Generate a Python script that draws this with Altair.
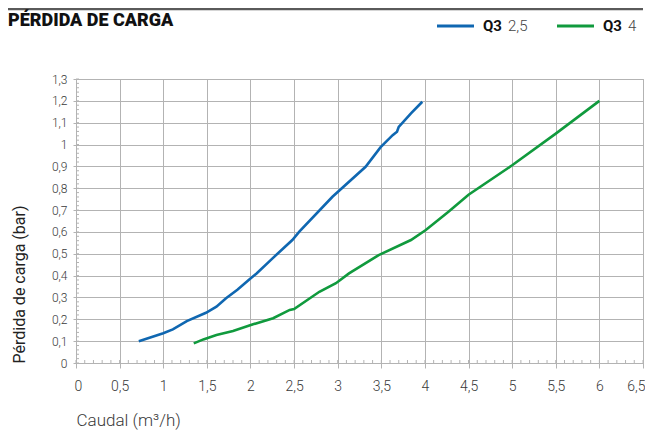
import altair as alt
import pandas as pd
import numpy as np

# ---- data ----
blue_x = [0.72, 1.0, 1.11, 1.27, 1.49, 1.61, 1.72, 1.85, 1.99, 2.07, 2.25, 2.48, 2.56, 2.94, 3.32, 3.49, 3.63, 3.68, 3.70, 3.84, 3.97]
blue_y = [0.10, 0.136, 0.154, 0.192, 0.23, 0.258, 0.296, 0.335, 0.383, 0.41, 0.478, 0.563, 0.601, 0.761, 0.898, 0.987, 1.043, 1.059, 1.081, 1.143, 1.196]
green_x = [1.35, 1.46, 1.61, 1.80, 2.03, 2.26, 2.45, 2.50, 2.79, 2.98, 3.13, 3.47, 3.84, 4.01, 4.27, 4.5, 5.0, 5.5, 6.0]
green_y = [0.09, 0.108, 0.128, 0.146, 0.177, 0.205, 0.243, 0.247, 0.326, 0.365, 0.41, 0.494, 0.563, 0.609, 0.692, 0.77, 0.905, 1.05, 1.2]
series_names = ["Q3 2,5", "Q3 4"]
series_colors = ["#0f67b1", "#109a3d"]
x_ticks = [0, 0.5, 1, 1.5, 2, 2.5, 3, 3.5, 4, 4.5, 5, 5.5, 6, 6.5]
y_ticks = [0, 0.1, 0.2, 0.3, 0.4, 0.5, 0.6, 0.7, 0.8, 0.9, 1.0, 1.1, 1.2, 1.3]
x_minor = [round(v, 2) for v in np.arange(0, 6.51, 0.1)]
y_minor = [round(v, 2) for v in np.arange(0, 1.301, 0.02)]
title_text = ["PÉRDIDA DE CARGA"]
legend_bold = ["Q3", "Q3"]
legend_rest = ["2,5", "4"]

df = pd.DataFrame({
    "x": blue_x + green_x,
    "y": blue_y + green_y,
    "s": [series_names[0]] * len(blue_x) + [series_names[1]] * len(green_x),
})

GRID = "#b3b3b3"
LAB = "#3a3a3a"
BOLD = "Roboto, sans-serif"
LIGHT = "Roboto, sans-serif"
W, H = 567, 284

xscale = alt.Scale(domain=[0, 6.5], nice=False, zero=False)
yscale = alt.Scale(domain=[0, 1.3], nice=False, zero=False)
lab_expr = "replace(format(datum.value, '.2~f'), '.', ',')"

xaxis = alt.Axis(values=x_ticks, labelExpr=lab_expr, title="Caudal (m³/h)",
                 grid=True, gridColor=GRID, domainColor=GRID, tickColor=GRID,
                 tickSize=5, labelPadding=11, labelFontSize=14, labelColor=LAB,
                 labelFont=LIGHT, labelFontWeight=300, labelOverlap=False,
                 titleFont=LIGHT, titleFontSize=17,
                 titleFontWeight=300, titleColor=LAB, titleAnchor="start",
                 titleAlign="left", titlePadding=19,
                 labelFlush=True, labelFlushOffset=2)
yaxis = alt.Axis(values=y_ticks, labelExpr=lab_expr, title="Pérdida de carga (bar)",
                 grid=True, gridColor=GRID, domainColor=GRID, tickColor=GRID,
                 tickSize=3, labelPadding=6, labelFontSize=12, labelColor=LAB,
                 labelFont=LIGHT, labelFontWeight=300, labelOverlap=False,
                 labelBound=False, labelFlush=False,
                 titleFont=LIGHT, titleFontSize=16,
                 titleFontWeight="normal", titleColor="#222", titleAnchor="start",
                 titlePadding=24)

lines = alt.Chart(df).mark_line(strokeWidth=2.6).encode(
    x=alt.X("x:Q", scale=xscale, axis=xaxis),
    y=alt.Y("y:Q", scale=yscale, axis=yaxis),
    color=alt.Color("s:N", scale=alt.Scale(domain=series_names, range=series_colors), legend=None),
)

xm = alt.Chart(pd.DataFrame({"v": x_minor})).mark_rule(color=GRID, strokeWidth=1).encode(
    x=alt.X("v:Q", scale=xscale, axis=xaxis), y=alt.value(H), y2=alt.value(H - 3))
ym = alt.Chart(pd.DataFrame({"v": y_minor})).mark_rule(color=GRID, strokeWidth=1).encode(
    y=alt.Y("v:Q", scale=yscale, axis=yaxis), x=alt.value(0), x2=alt.value(3))

one = pd.DataFrame({"a": [0]})
topline = alt.Chart(one).mark_rule(color="#5a5a5a", strokeWidth=2.5).encode(
    x=alt.value(-68), x2=alt.value(W), y=alt.value(-70))
title = alt.Chart(pd.DataFrame({"t": title_text})).mark_text(
    align="left", baseline="middle", font=BOLD, fontWeight=900, fontSize=18, color="#111"
).encode(text="t:N", x=alt.value(-68), y=alt.value(-58))

leg_layers = []
leg_x = [361, 481]
for i in range(2):
    leg_layers.append(alt.Chart(one).mark_rule(color=series_colors[i], strokeWidth=3).encode(
        x=alt.value(leg_x[i]), x2=alt.value(leg_x[i] + 37), y=alt.value(-53)))
    leg_layers.append(alt.Chart(pd.DataFrame({"t": [legend_bold[i]]})).mark_text(
        align="left", baseline="middle", font=BOLD, fontWeight="bold", fontSize=15, color="#111"
    ).encode(text="t:N", x=alt.value(leg_x[i] + 46), y=alt.value(-53)))
    leg_layers.append(alt.Chart(pd.DataFrame({"t": [legend_rest[i]]})).mark_text(
        align="left", baseline="middle", font=LIGHT, fontWeight=300, fontSize=15, color="#444"
    ).encode(text="t:N", x=alt.value(leg_x[i] + 71), y=alt.value(-53)))

chart = alt.layer(lines, xm, ym, topline, title, *leg_layers).properties(
    width=W, height=H,
    autosize=alt.AutoSizeParams(type="none"),
    padding={"left": 68, "top": 71, "right": 2, "bottom": 68},
).configure_view(stroke=GRID, strokeWidth=1)

chart.save("out.html", embed_options={"renderer": "svg", "actions": False})
